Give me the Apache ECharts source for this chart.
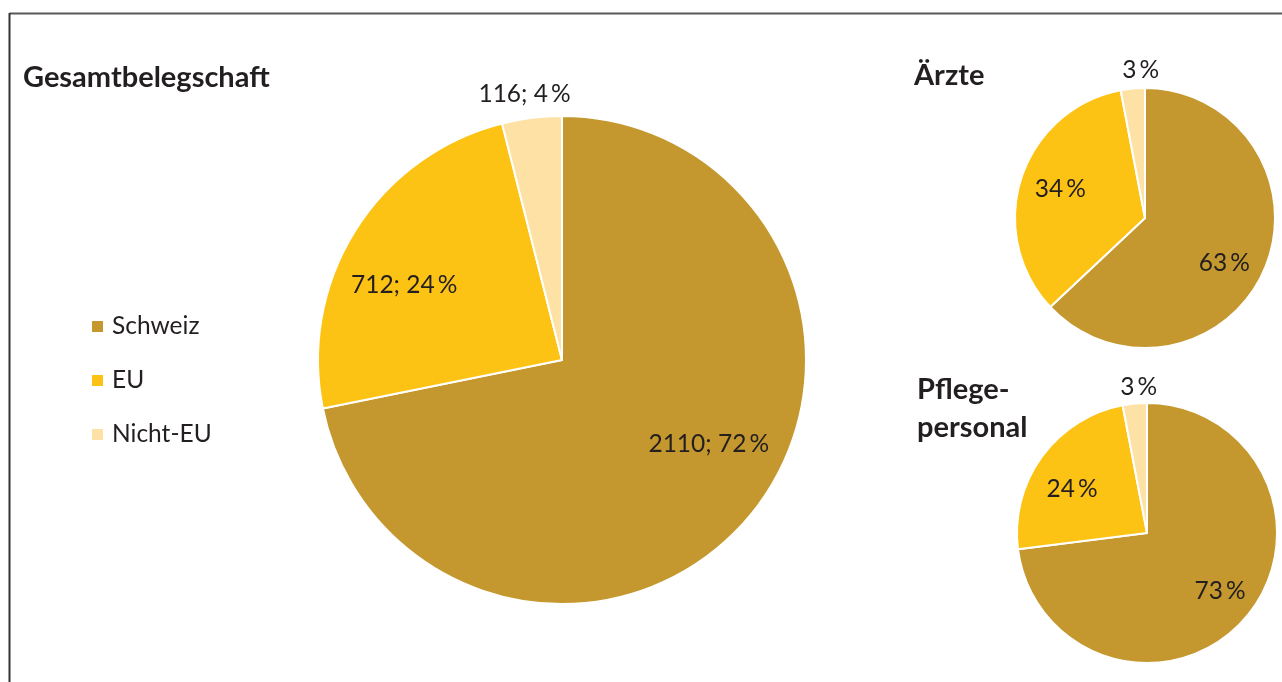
<!DOCTYPE html>
<html>
<head>
<meta charset="utf-8">
<script src="https://cdn.jsdelivr.net/npm/echarts@6/dist/echarts.min.js"></script>
<style>
  html, body { margin: 0; padding: 0; background: #fff; }
  #chart { width: 1282px; height: 682px; }
</style>
</head>
<body>
<div id="chart"></div>
<script>
// Herkunft der Belegschaft
const categories = ['Schweiz', 'EU', 'Nicht-EU'];
const colors = ['#C4982E', '#FDC314', '#FEE1A4'];

const gesamtCounts = [2110, 712, 116];
const gesamtShares = [72, 24, 4];
const aerzteShares = [63, 34, 3];
const pflegeShares = [73, 24, 3];

// Verschiebung der Beschriftungen gegenüber der Sektor-Mitte [dx, dy]
const labelShift = [
  [[50, 5], [-52, -8], [-22, -142]],
  [[17, 18], [-20, -8], [2, -80]],
  [[22, 13], [-20, -4], [-2, -78]]
];

const FONT = 'Lato, "Open Sans", sans-serif';
const TEXT = '#231F20';
const pct = v => v + '\u2009%';

function pieData(values, labels) {
  return categories.map((name, i) => ({
    name: name,
    value: values[i],
    itemStyle: { color: colors[i] },
    label: { formatter: labels[i] }
  }));
}

function pieSeries(index, center, radius, data) {
  return {
    type: 'pie',
    center: center,
    radius: radius,
    startAngle: 90,
    clockwise: true,
    silent: true,
    animation: false,
    avoidLabelOverlap: false,
    itemStyle: { borderColor: '#fff', borderWidth: 2 },
    label: {
      show: true,
      position: 'inside',
      color: TEXT,
      fontFamily: FONT,
      fontSize: 24.5
    },
    labelLine: { show: false },
    labelLayout: function (params) {
      const s = labelShift[index][params.dataIndex];
      return { dx: s[0], dy: s[1] };
    },
    data: data
  };
}

const chart = echarts.init(document.getElementById('chart'), null, { renderer: 'canvas' });

const titleStyle = { fontFamily: FONT, fontSize: 29, fontWeight: 'bold', color: TEXT };

const option = {
  backgroundColor: '#fff',
  animation: false,
  textStyle: { fontFamily: FONT },
  title: [
    { text: 'Gesamtbelegschaft', left: 18, top: 58, textStyle: titleStyle },
    { text: 'Ärzte', left: 909, top: 56, textStyle: titleStyle },
    { text: 'Pflege-\npersonal', left: 912, top: 366,
      textStyle: Object.assign({ lineHeight: 38 }, titleStyle) }
  ],
  legend: {
    orient: 'vertical',
    left: 85,
    top: 309,
    itemWidth: 13,
    itemHeight: 13,
    itemGap: 29,
    icon: 'rect',
    data: categories,
    textStyle: { fontFamily: FONT, fontSize: 24.5, color: TEXT, lineHeight: 24, padding: [0, 0, 0, 3] }
  },
  series: [
    pieSeries(0, [562, 360], 244, pieData(gesamtCounts,
      gesamtCounts.map((c, i) => c + '; ' + pct(gesamtShares[i])))),
    pieSeries(1, [1145, 218], 130, pieData(aerzteShares, aerzteShares.map(pct))),
    pieSeries(2, [1147, 533], 130, pieData(pflegeShares, pflegeShares.map(pct)))
  ],
  graphic: [
    { type: 'line', shape: { x1: 9.5, y1: 13.5, x2: 1282, y2: 13.5 },
      style: { stroke: '#595959', lineWidth: 2 }, silent: true },
    { type: 'line', shape: { x1: 9.5, y1: 13, x2: 9.5, y2: 682 },
      style: { stroke: '#333', lineWidth: 2 }, silent: true }
  ]
};

chart.setOption(option);
</script>
</body>
</html>
